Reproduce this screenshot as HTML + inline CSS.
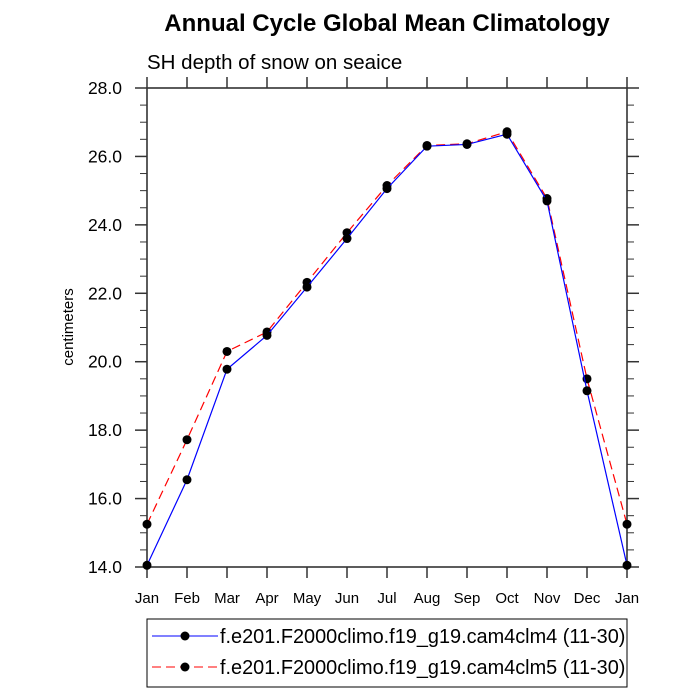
<!DOCTYPE html>
<html><head><meta charset="utf-8"><style>
body{margin:0;background:#fff;}
svg{display:block;font-family:"Liberation Sans",Arial,sans-serif;}
</style></head><body>
<svg id="chart" width="700" height="700">
<text x="387" y="31" text-anchor="middle" font-size="24" font-weight="bold">Annual Cycle Global Mean Climatology</text>
<text x="147" y="69" font-size="20.5">SH depth of snow on seaice</text>
<text transform="translate(73,327) rotate(-90)" text-anchor="middle" font-size="15">centimeters</text>
<g id="axes"></g>
<g id="series"></g>
<rect x="147" y="619" width="480" height="68" fill="none" stroke="#000" stroke-width="1"/>
<g>
<line x1="152" y1="636" x2="218" y2="636" stroke="#0000ff" stroke-width="1"/>
<circle cx="185" cy="636" r="4.5" fill="#000"/>
<text x="220" y="643" font-size="19.9">f.e201.F2000climo.f19_g19.cam4clm4 (11-30)</text>
</g>
<g>
<line x1="152" y1="667" x2="218" y2="667" stroke="#ff0000" stroke-width="1" stroke-dasharray="9,5"/>
<circle cx="185" cy="667" r="4.5" fill="#000"/>
<text x="220" y="674" font-size="19.9">f.e201.F2000climo.f19_g19.cam4clm5 (11-30)</text>
</g>
</svg>
<script>
const months = ["Jan","Feb","Mar","Apr","May","Jun","Jul","Aug","Sep","Oct","Nov","Dec","Jan"];
const cam4 = [14.05,16.55,19.78,20.77,22.18,23.6,25.06,26.3,26.35,26.65,24.7,19.15,14.05];
const cam5 = [15.25,17.72,20.3,20.87,22.32,23.77,25.15,26.32,26.37,26.72,24.77,19.5,15.25];
const yTicks = ["14.0","16.0","18.0","20.0","22.0","24.0","26.0","28.0"];
const L=147,R=627,T=88,B=567,ymin=14,ymax=28;
const xs=i=>L+(R-L)*i/(months.length-1);
const ys=v=>B-(v-ymin)/(ymax-ymin)*(B-T);
const NS="http://www.w3.org/2000/svg";
const ax=document.getElementById('axes'),sg=document.getElementById('series');
function mk(tag,at,p){const e=document.createElementNS(NS,tag);for(const k in at)e.setAttribute(k,at[k]);p.appendChild(e);return e;}
const frame=mk('rect',{x:L,y:T,width:R-L,height:B-T,fill:'none',stroke:'#333','stroke-width':1.6},ax);


months.forEach((m,i)=>{
  const x=xs(i);
  mk('line',{x1:x,y1:B,x2:x,y2:B+11,stroke:'#333','stroke-width':1.5},ax);
  mk('line',{x1:x,y1:T,x2:x,y2:T-11,stroke:'#333','stroke-width':1.5},ax);
  const t=mk('text',{x:x,y:B+36,'text-anchor':'middle','font-size':15},ax);
  t.textContent=m;
  
  
});
for(let v=ymin;v<=ymax+1e-9;v+=0.5){
  const y=ys(v),maj=Math.abs(v%2)<1e-9,len=maj?12:7;
  mk('line',{x1:L,y1:y,x2:L-len,y2:y,stroke:'#333','stroke-width':maj?1.5:1},ax);
  mk('line',{x1:R,y1:y,x2:R+len,y2:y,stroke:'#333','stroke-width':maj?1.5:1},ax);
}
yTicks.forEach(s=>{
  const t=mk('text',{x:122,y:ys(parseFloat(s))+6,'text-anchor':'end','font-size':17.5},ax);
  t.textContent=s;
  
  
});
function series(vals,color,dash,name){
  const pl=mk('polyline',{points:vals.map((v,i)=>xs(i)+','+ys(v)).join(' '),fill:'none',stroke:color,'stroke-width':1.2},sg);
  if(dash)pl.setAttribute('stroke-dasharray',dash);
  
  
  vals.forEach((v,i)=>{
    const c=mk('circle',{cx:xs(i),cy:ys(v),r:4.5,fill:'#000'},sg);
    
    
  });
}
series(cam5,'#ff0000','9,5','cam4clm5');
series(cam4,'#0000ff',null,'cam4clm4');
</script>
</body></html>
